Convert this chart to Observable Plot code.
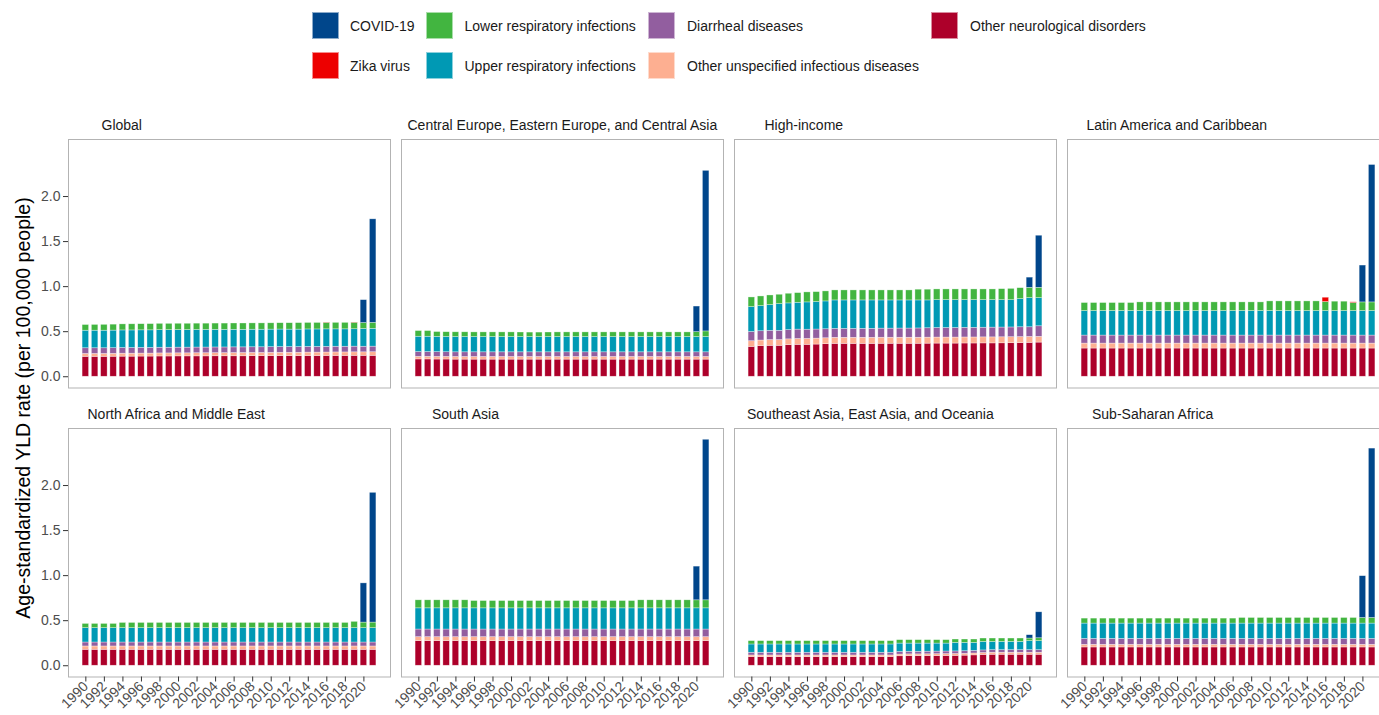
<!DOCTYPE html>
<html>
<head>
<meta charset="utf-8">
<script src="https://cdn.jsdelivr.net/npm/d3@7"></script>
<script src="https://cdn.jsdelivr.net/npm/@observablehq/plot@0.6"></script>
<style>
  html, body { margin: 0; padding: 0; background: #fff; overflow: hidden; }
  #root { position: relative; width: 1379px; height: 715px; overflow: hidden; font-family: "Liberation Sans", Arial, sans-serif; }
  .strip { position: absolute; font-size: 14px; color: #1a1a1a; white-space: nowrap; line-height: 1; transform: translateY(-50%); }
  .lkey { position: absolute; width: 27px; height: 27px; box-sizing: border-box; border: 0.6px solid rgba(255,255,255,0.55); }
  .llab { position: absolute; font-size: 14px; color: #1a1a1a; white-space: nowrap; line-height: 1; transform: translateY(-50%); }
  .ytitle { position: absolute; font-size: 19.5px; color: #000; white-space: nowrap; transform: translate(-50%, -50%) rotate(-90deg); }
  svg { position: absolute; }
</style>
</head>
<body>
<div id="root"></div>
<script>
// ---------------- DATA ----------------
const years = [1990,1991,1992,1993,1994,1995,1996,1997,1998,1999,2000,2001,2002,2003,2004,2005,
               2006,2007,2008,2009,2010,2011,2012,2013,2014,2015,2016,2017,2018,2019,2020,2021];
const evenYears = [1990,1992,1994,1996,1998,2000,2002,2004,2006,2008,2010,2012,2014,2016,2018,2020];
const yTicks = [0, 0.5, 1, 1.5, 2];

const regions = ["Global", "Central Europe, Eastern Europe, and Central Asia", "High-income",
  "Latin America and Caribbean", "North Africa and Middle East", "South Asia",
  "Southeast Asia, East Asia, and Oceania", "Sub-Saharan Africa"];

// stack order, bottom to top
const causes = ["Other neurological disorders", "Other unspecified infectious diseases", "Diarrheal diseases",
  "Upper respiratory infections", "Lower respiratory infections", "Zika virus", "COVID-19"];
const causeColors = ["#AD002A", "#FDAF91", "#925E9F", "#0099B4", "#42B540", "#ED0000", "#00468B"];
// legend order
const legendCauses = ["COVID-19", "Zika virus", "Lower respiratory infections", "Upper respiratory infections",
  "Diarrheal diseases", "Other unspecified infectious diseases", "Other neurological disorders"];

// Global
const globalNeuro = [0.221,0.221,0.221,0.222,0.223,0.223,0.224,0.224, 0.225,0.225,0.226,0.226,0.226,0.226,0.227,0.227,
                     0.227,0.227,0.228,0.228,0.228,0.229,0.229,0.229, 0.230,0.230,0.231,0.231,0.231,0.232,0.232,0.232];
const globalOther = [0.032,0.032,0.032,0.032,0.033,0.033,0.033,0.033, 0.034,0.034,0.034,0.034,0.035,0.035,0.035,0.035,
                     0.036,0.036,0.036,0.036,0.037,0.037,0.037,0.037, 0.038,0.038,0.038,0.039,0.039,0.039,0.039,0.040];
const globalDiarr = [0.063,0.063,0.063,0.063,0.063,0.063,0.063,0.063, 0.063,0.063,0.063,0.063,0.063,0.063,0.063,0.063,
                     0.063,0.063,0.063,0.063,0.063,0.063,0.063,0.063, 0.063,0.063,0.063,0.063,0.063,0.063,0.062,0.062];
const globalUpper = [0.195,0.195,0.195,0.195,0.195,0.195,0.195,0.195, 0.195,0.195,0.195,0.195,0.195,0.195,0.195,0.195,
                     0.195,0.195,0.195,0.195,0.195,0.195,0.194,0.194, 0.194,0.194,0.194,0.193,0.193,0.193,0.197,0.198];
const globalLower = [0.063,0.064,0.065,0.066,0.067,0.068,0.068,0.069, 0.070,0.070,0.070,0.070,0.070,0.070,0.070,0.070,
                     0.070,0.070,0.070,0.070,0.070,0.070,0.071,0.072, 0.072,0.072,0.072,0.072,0.072,0.072,0.066,0.066];
const globalZika  = [0,0,0,0,0,0,0,0, 0,0,0,0,0,0,0,0, 0,0,0,0,0,0,0,0, 0,0,0.003,0,0,0.003,0,0];

// Central Europe, Eastern Europe, and Central Asia
const ceeNeuro = [0.192,0.192,0.191,0.191,0.190,0.190,0.190,0.190, 0.190,0.190,0.190,0.190,0.190,0.190,0.190,0.190,
                  0.190,0.190,0.190,0.190,0.190,0.190,0.190,0.190, 0.190,0.190,0.190,0.190,0.190,0.190,0.190,0.190];
const ceeOther = [0.029,0.029,0.029,0.029,0.029,0.029,0.029,0.029, 0.029,0.029,0.029,0.029,0.029,0.029,0.029,0.029,
                  0.029,0.029,0.029,0.029,0.029,0.029,0.029,0.029, 0.029,0.029,0.029,0.029,0.029,0.029,0.029,0.029];
const ceeDiarr = [0.053,0.053,0.053,0.052,0.052,0.052,0.052,0.052, 0.052,0.052,0.052,0.052,0.052,0.052,0.052,0.052,
                  0.052,0.052,0.052,0.052,0.052,0.052,0.052,0.052, 0.052,0.052,0.052,0.052,0.052,0.052,0.052,0.052];
const ceeUpper = [0.170,0.170,0.169,0.169,0.169,0.169,0.169,0.169, 0.169,0.169,0.169,0.169,0.169,0.169,0.169,0.169,
                  0.169,0.169,0.169,0.169,0.169,0.169,0.169,0.169, 0.169,0.169,0.169,0.169,0.169,0.169,0.169,0.169];
const ceeLower = [0.063,0.063,0.054,0.053,0.053,0.053,0.052,0.052, 0.052,0.052,0.052,0.051,0.050,0.050,0.051,0.052,
                  0.052,0.052,0.052,0.052,0.052,0.052,0.052,0.052, 0.052,0.052,0.052,0.052,0.052,0.052,0.055,0.063];

// High-income
const hiNeuro = [0.331,0.339,0.343,0.343,0.350,0.354,0.354,0.357, 0.361,0.365,0.365,0.365,0.365,0.365,0.366,0.366,
                 0.366,0.366,0.366,0.367,0.368,0.368,0.368,0.369, 0.369,0.370,0.370,0.371,0.372,0.373,0.376,0.379];
const hiOther = [0.063,0.063,0.064,0.064,0.065,0.065,0.066,0.066, 0.066,0.067,0.067,0.067,0.067,0.067,0.067,0.067,
                 0.067,0.067,0.067,0.067,0.067,0.067,0.067,0.067, 0.067,0.067,0.067,0.067,0.067,0.067,0.066,0.064];
const hiDiarr = [0.103,0.103,0.103,0.103,0.103,0.104,0.102,0.101, 0.100,0.099,0.099,0.099,0.100,0.100,0.101,0.101,
                 0.102,0.102,0.103,0.104,0.106,0.106,0.106,0.107, 0.107,0.107,0.108,0.108,0.108,0.109,0.107,0.117];
const hiUpper = [0.276,0.279,0.285,0.296,0.296,0.298,0.303,0.305, 0.309,0.316,0.316,0.316,0.315,0.315,0.313,0.313,
                 0.312,0.312,0.311,0.309,0.309,0.309,0.309,0.307, 0.307,0.306,0.305,0.304,0.303,0.313,0.324,0.313];
const hiLower = [0.107,0.107,0.107,0.104,0.107,0.107,0.111,0.110, 0.111,0.111,0.111,0.111,0.111,0.111,0.111,0.111,
                 0.111,0.111,0.119,0.119,0.119,0.119,0.119,0.119, 0.119,0.119,0.119,0.122,0.125,0.121,0.114,0.114];

// Latin America and Caribbean
const laNeuro = [0.313,0.313,0.313,0.313,0.313,0.313,0.313,0.313, 0.313,0.313,0.313,0.313,0.313,0.313,0.313,0.313,
                 0.313,0.313,0.313,0.313,0.313,0.313,0.313,0.313, 0.313,0.313,0.313,0.313,0.313,0.313,0.313,0.313];
const laOther = [0.055,0.055,0.055,0.055,0.055,0.055,0.055,0.055, 0.055,0.055,0.055,0.055,0.055,0.055,0.055,0.055,
                 0.055,0.055,0.055,0.055,0.055,0.055,0.055,0.055, 0.055,0.055,0.055,0.055,0.055,0.055,0.055,0.055];
const laDiarr = [0.089,0.089,0.089,0.089,0.089,0.089,0.089,0.089, 0.089,0.089,0.089,0.089,0.089,0.089,0.089,0.089,
                 0.089,0.089,0.089,0.089,0.089,0.089,0.089,0.089, 0.089,0.089,0.089,0.089,0.089,0.089,0.089,0.089];
const laUpper = [0.272,0.272,0.272,0.272,0.272,0.272,0.272,0.272, 0.272,0.272,0.272,0.272,0.272,0.272,0.272,0.272,
                 0.272,0.272,0.272,0.272,0.272,0.272,0.272,0.272, 0.272,0.272,0.272,0.272,0.272,0.272,0.272,0.272];
const laLower = [0.089,0.089,0.089,0.089,0.089,0.089,0.096,0.096, 0.096,0.096,0.096,0.096,0.096,0.096,0.096,0.096,
                 0.096,0.096,0.096,0.096,0.107,0.107,0.107,0.107, 0.107,0.107,0.100,0.104,0.104,0.089,0.096,0.096];
const laZika  = [0,0,0,0,0,0,0,0, 0,0,0,0,0,0,0,0, 0,0,0,0,0,0,0,0, 0,0,0.048,0,0,0.008,0,0];

// North Africa and Middle East
const naNeuro = [0.177,0.177,0.177,0.177,0.177,0.177,0.177,0.177, 0.177,0.177,0.177,0.177,0.177,0.177,0.177,0.177,
                 0.177,0.177,0.177,0.177,0.177,0.177,0.177,0.177, 0.177,0.177,0.177,0.177,0.177,0.177,0.177,0.177];
const naOther = [0.037,0.037,0.037,0.037,0.037,0.037,0.037,0.037, 0.037,0.037,0.037,0.037,0.037,0.037,0.037,0.037,
                 0.037,0.037,0.037,0.037,0.037,0.037,0.037,0.037, 0.037,0.037,0.037,0.037,0.037,0.037,0.037,0.037];
const naDiarr = [0.044,0.044,0.044,0.044,0.044,0.044,0.044,0.044, 0.044,0.044,0.044,0.044,0.044,0.044,0.044,0.044,
                 0.044,0.044,0.044,0.044,0.044,0.044,0.044,0.044, 0.044,0.044,0.044,0.044,0.044,0.044,0.044,0.044];
const naUpper = [0.159,0.159,0.159,0.159,0.159,0.159,0.159,0.159, 0.159,0.159,0.159,0.159,0.159,0.159,0.159,0.159,
                 0.159,0.159,0.159,0.159,0.159,0.159,0.159,0.159, 0.159,0.159,0.159,0.159,0.159,0.159,0.159,0.159];
const naLower = [0.047,0.047,0.047,0.047,0.058,0.058,0.058,0.058, 0.058,0.058,0.058,0.058,0.058,0.058,0.058,0.058,
                 0.058,0.058,0.058,0.058,0.058,0.058,0.058,0.058, 0.058,0.058,0.058,0.058,0.058,0.070,0.062,0.062];

// South Asia
const saNeuro = [0.273,0.273,0.273,0.273,0.273,0.273,0.273,0.273, 0.273,0.273,0.273,0.273,0.273,0.273,0.273,0.273,
                 0.273,0.273,0.273,0.273,0.273,0.273,0.273,0.273, 0.273,0.273,0.273,0.273,0.273,0.273,0.273,0.273];
const saOther = [0.044,0.044,0.044,0.044,0.044,0.044,0.044,0.044, 0.044,0.044,0.044,0.044,0.044,0.044,0.044,0.044,
                 0.044,0.044,0.044,0.044,0.044,0.044,0.044,0.044, 0.044,0.044,0.044,0.044,0.044,0.044,0.044,0.044];
const saDiarr = [0.085,0.085,0.085,0.085,0.085,0.085,0.085,0.085, 0.085,0.085,0.085,0.085,0.085,0.085,0.085,0.085,
                 0.085,0.085,0.085,0.085,0.085,0.085,0.085,0.085, 0.085,0.085,0.085,0.085,0.085,0.085,0.085,0.085];
const saUpper = [0.235,0.235,0.235,0.235,0.235,0.235,0.235,0.235, 0.235,0.235,0.235,0.235,0.235,0.235,0.235,0.235,
                 0.235,0.235,0.235,0.235,0.235,0.235,0.235,0.235, 0.235,0.235,0.235,0.235,0.235,0.235,0.235,0.235];
const saLower = [0.089,0.089,0.089,0.089,0.089,0.089,0.081,0.081, 0.081,0.081,0.081,0.081,0.081,0.081,0.081,0.081,
                 0.081,0.081,0.081,0.081,0.081,0.081,0.081,0.081, 0.089,0.089,0.089,0.089,0.089,0.089,0.089,0.089];

// Southeast Asia, East Asia, and Oceania
const seaNeuro = [0.096,0.096,0.096,0.096,0.096,0.096,0.096,0.096, 0.096,0.096,0.096,0.096,0.096,0.096,0.096,0.096,
                  0.105,0.107,0.107,0.108,0.108,0.109,0.110,0.112, 0.115,0.120,0.122,0.122,0.122,0.122,0.122,0.122];
const seaOther = [0.018,0.018,0.018,0.018,0.018,0.018,0.018,0.018, 0.018,0.018,0.018,0.018,0.018,0.018,0.018,0.018,
                  0.019,0.019,0.019,0.019,0.020,0.020,0.020,0.020, 0.021,0.021,0.022,0.022,0.022,0.022,0.022,0.022];
const seaDiarr = [0.030,0.030,0.030,0.030,0.030,0.030,0.030,0.030, 0.030,0.030,0.030,0.030,0.030,0.030,0.030,0.030,
                  0.029,0.029,0.029,0.029,0.029,0.029,0.029,0.029, 0.029,0.029,0.029,0.029,0.029,0.029,0.029,0.029];
const seaUpper = [0.092,0.092,0.092,0.092,0.092,0.092,0.092,0.092, 0.092,0.092,0.092,0.092,0.092,0.092,0.092,0.092,
                  0.093,0.091,0.091,0.090,0.089,0.088,0.094,0.092, 0.088,0.094,0.091,0.091,0.091,0.091,0.100,0.100];
const seaLower = [0.037,0.037,0.037,0.037,0.037,0.037,0.037,0.037, 0.037,0.037,0.037,0.037,0.037,0.037,0.037,0.037,
                  0.038,0.038,0.038,0.038,0.038,0.038,0.038,0.038, 0.038,0.038,0.038,0.038,0.038,0.038,0.029,0.032];

// Sub-Saharan Africa
const ssaNeuro = [0.203,0.203,0.203,0.203,0.203,0.203,0.203,0.203, 0.203,0.203,0.203,0.203,0.203,0.203,0.203,0.203,
                  0.203,0.203,0.203,0.203,0.203,0.203,0.203,0.203, 0.203,0.203,0.203,0.203,0.203,0.203,0.203,0.203];
const ssaOther = [0.029,0.029,0.029,0.029,0.029,0.029,0.029,0.029, 0.029,0.029,0.029,0.029,0.029,0.029,0.029,0.029,
                  0.029,0.029,0.029,0.029,0.029,0.029,0.029,0.029, 0.029,0.029,0.029,0.029,0.029,0.029,0.029,0.029];
const ssaDiarr = [0.066,0.066,0.066,0.066,0.066,0.066,0.066,0.066, 0.066,0.066,0.066,0.066,0.066,0.066,0.066,0.066,
                  0.066,0.066,0.066,0.066,0.066,0.066,0.066,0.066, 0.066,0.066,0.066,0.066,0.066,0.066,0.066,0.066];
const ssaUpper = [0.170,0.170,0.170,0.170,0.170,0.170,0.170,0.170, 0.170,0.170,0.170,0.170,0.170,0.170,0.170,0.170,
                  0.170,0.170,0.170,0.170,0.170,0.170,0.170,0.170, 0.170,0.170,0.170,0.170,0.170,0.170,0.170,0.170];
const ssaLower = [0.055,0.055,0.055,0.055,0.055,0.055,0.055,0.055, 0.055,0.055,0.055,0.055,0.055,0.055,0.055,0.055,
                  0.055,0.062,0.062,0.062,0.062,0.062,0.062,0.062, 0.062,0.062,0.062,0.062,0.062,0.062,0.062,0.062];

// COVID-19 (2020, 2021) per region, in region order
const covid2020 = [0.254, 0.284, 0.113, 0.409, 0.435, 0.374, 0.037, 0.464];
const covid2021 = [1.149, 1.782, 0.578, 1.525, 1.440, 1.782, 0.288, 1.880];

// ---------------- BUILD TABLE ----------------
const seriesByRegion = [
  [globalNeuro, globalOther, globalDiarr, globalUpper, globalLower, globalZika],
  [ceeNeuro, ceeOther, ceeDiarr, ceeUpper, ceeLower, null],
  [hiNeuro, hiOther, hiDiarr, hiUpper, hiLower, null],
  [laNeuro, laOther, laDiarr, laUpper, laLower, laZika],
  [naNeuro, naOther, naDiarr, naUpper, naLower, null],
  [saNeuro, saOther, saDiarr, saUpper, saLower, null],
  [seaNeuro, seaOther, seaDiarr, seaUpper, seaLower, null],
  [ssaNeuro, ssaOther, ssaDiarr, ssaUpper, ssaLower, null]
];

const rows = [];
regions.forEach((region, r) => {
  seriesByRegion[r].forEach((vals, c) => {
    if (!vals) return;
    vals.forEach((v, i) => { if (v > 0) rows.push({region, year: years[i], cause: causes[c], value: v}); });
  });
  rows.push({region, year: 2020, cause: "COVID-19", value: covid2020[r]});
  rows.push({region, year: 2021, cause: "COVID-19", value: covid2021[r]});
});

// ---------------- LAYOUT ----------------
const root = document.getElementById("root");
const colLeft = [67.5, 400.5, 733.5, 1066.5];
const rowTop = [139, 427.5];
const PW = 322, PH = 248.5;
const ML = 60, MR = 2, MT = 2, MB = 55;
const titleOffset = [34, 7, 31, 20, 20, 31.5, 13.5, 25.5];
const fontFamily = '"Liberation Sans", Arial, sans-serif';

regions.forEach((region, r) => {
  const col = r % 4, row = Math.floor(r / 4);
  const isLeft = col === 0, isBottom = row === 1;
  const data = rows.filter(d => d.region === region);
  const svg = Plot.plot({
    width: PW + ML + MR,
    height: PH + MT + MB,
    marginLeft: ML, marginRight: MR, marginTop: MT, marginBottom: MB,
    style: {fontFamily, fontSize: "14px", background: "transparent", overflow: "visible"},
    x: {type: "band", domain: years, paddingInner: 0.3, paddingOuter: 1.52, round: false, axis: null},
    y: {domain: [-0.125, 2.633], axis: null},
    color: {domain: causes, range: causeColors},
    marks: [
      Plot.barY(data, {x: "year", y: "value", fill: "cause", order: causes,
        stroke: "white", strokeWidth: 0.6, strokeOpacity: 0.55}),
      Plot.frame({stroke: "#b3b3b3", strokeWidth: 1}),
      isLeft ? Plot.axisY(yTicks, {tickFormat: d3.format(".1f"), tickSize: 5, tickPadding: 3,
        fontSize: 14, stroke: "#333", fill: "#4d4d4d", label: null}) : null,
      isBottom ? Plot.axisX(evenYears, {tickRotate: -45, tickFormat: d => String(d), tickSize: 5, tickPadding: 2,
        fontSize: 14, stroke: "#333", fill: "#4d4d4d", label: null}) : null
    ]
  });
  svg.style.left = (colLeft[col] - ML) + "px";
  svg.style.top = (rowTop[row] - MT) + "px";
  root.appendChild(svg);

  const t = document.createElement("div");
  t.className = "strip";
  t.textContent = region;
  t.style.left = (colLeft[col] + titleOffset[r]) + "px";
  t.style.top = (rowTop[row] - 14) + "px";
  root.appendChild(t);
});

// y-axis title
const yt = document.createElement("div");
yt.className = "ytitle";
yt.textContent = "Age-standardized YLD rate (per 100,000 people)";
yt.style.left = "22.5px";
yt.style.top = "407.5px";
root.appendChild(yt);

// legend (2 rows, filled by column)
const legKeyX = [311.5, 426, 647.5, 931];
const legLabX = [350, 464.5, 687, 970];
const legKeyY = [12, 51.5];
const colorOf = new Map(causes.map((c, i) => [c, causeColors[i]]));
legendCauses.forEach((c, i) => {
  const col = Math.floor(i / 2), row = i % 2;
  const k = document.createElement("div");
  k.className = "lkey";
  k.style.left = legKeyX[col] + "px";
  k.style.top = legKeyY[row] + "px";
  k.style.background = colorOf.get(c);
  root.appendChild(k);
  const l = document.createElement("div");
  l.className = "llab";
  l.textContent = c;
  l.style.left = legLabX[col] + "px";
  l.style.top = (legKeyY[row] + 14) + "px";
  root.appendChild(l);
});
</script>
</body>
</html>
